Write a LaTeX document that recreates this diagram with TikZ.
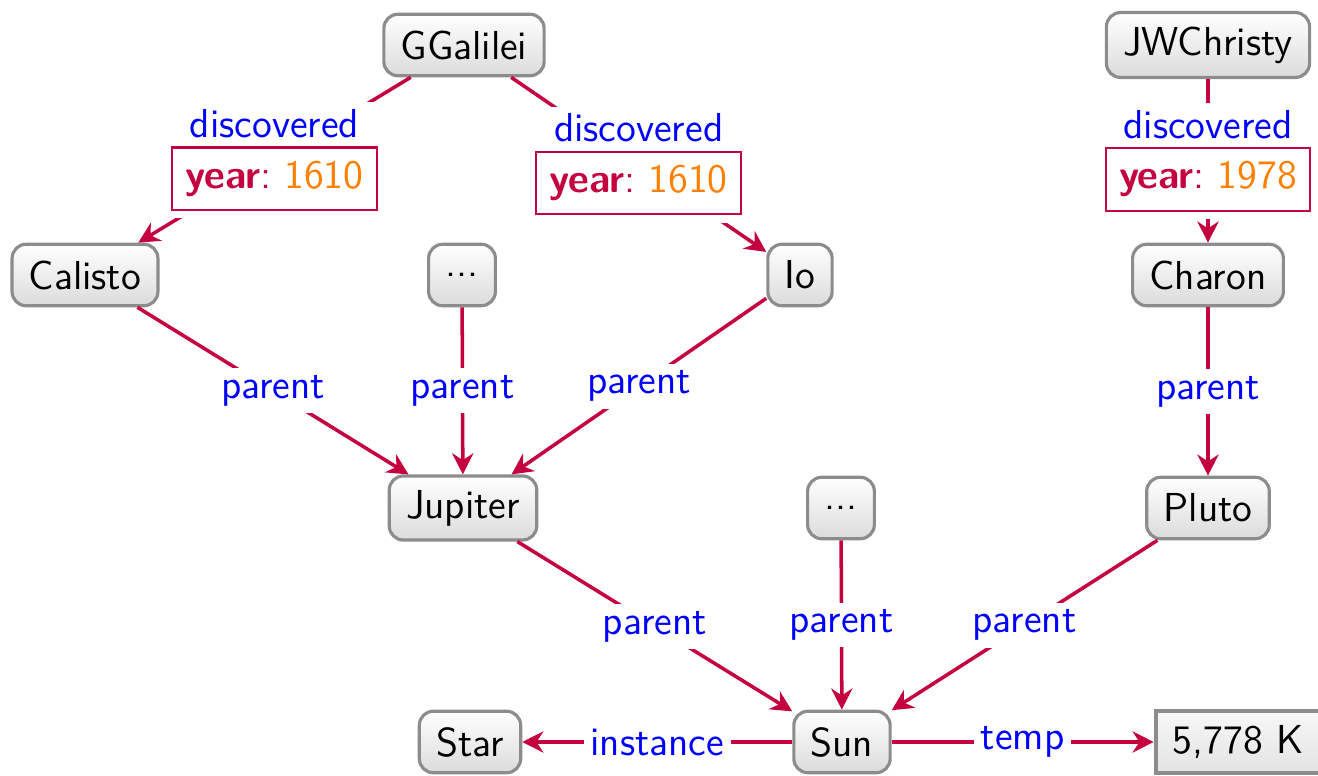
\documentclass[tikz,border=0pt]{standalone}
\usepackage{tikz}
\usetikzlibrary{arrows.meta}
\definecolor{edgered}{HTML}{C4003F}
\definecolor{lblblue}{HTML}{0000FF}
\definecolor{valorange}{HTML}{FF8000}
\definecolor{nodegray}{HTML}{8C8C8C}
\newcommand{\yearbox}[1]{\setlength{\fboxrule}{0.6pt}\setlength{\fboxsep}{3.5pt}%
\fcolorbox{edgered}{white}{\textbf{\color{edgered}year}{\color{edgered}:}\ {\color{valorange}#1}}}

\begin{document}
\begin{tikzpicture}[
  font=\sffamily\fontsize{11.5}{13.5}\selectfont,
  entity/.style={draw=nodegray, line width=0.9pt, rounded corners=4pt, top color=white, bottom color=gray!28, minimum height=17.5pt, inner xsep=4.8pt, inner ysep=4pt},
  literal/.style={draw=nodegray, line width=1.2pt, top color=gray!6, bottom color=gray!22, minimum height=17.5pt, inner xsep=4.8pt, inner ysep=4pt},
  rel/.style={draw=edgered, line width=1pt, -{Stealth[length=6pt,width=6pt]}},
  lbl/.style={fill=white, text=lblblue, inner sep=2pt, align=center}
]
\useasboundingbox (0,0) rectangle (13.18,7.76);

\node[entity] (galilei) at (4.64,7.31) {GGalilei};
\node[entity] (christy) at (12.08,7.31) {JWChristy};
\node[entity] (calisto) at (0.85,5.01) {Calisto};
\node[entity] (moons) at (4.62,5.01) {...};
\node[entity] (io) at (8.00,5.01) {Io};
\node[entity] (charon) at (12.08,5.01) {Charon};
\node[entity] (jupiter) at (4.63,2.68) {Jupiter};
\node[entity] (planets) at (8.41,2.68) {...};
\node[entity] (pluto) at (12.08,2.68) {Pluto};
\node[entity] (star) at (4.70,0.34) {Star};
\node[entity] (sun) at (8.42,0.34) {Sun};
\node[literal] (kelvin) at (12.38,0.34) {5,778 K};

\draw[rel] (galilei) -- node[lbl] {discovered\\[1pt]\yearbox{1610}} (calisto);
\draw[rel] (galilei) -- node[lbl] {discovered\\[1pt]\yearbox{1610}} (io);
\draw[rel] (christy) -- node[lbl] {discovered\\[1pt]\yearbox{1978}} (charon);

\draw[rel] (calisto) -- node[lbl] {parent} (jupiter);
\draw[rel] (moons) -- node[lbl] {parent} (jupiter);
\draw[rel] (io) -- node[lbl] {parent} (jupiter);
\draw[rel] (charon) -- node[lbl] {parent} (pluto);

\draw[rel] (jupiter) -- node[lbl] {parent} (sun);
\draw[rel] (planets) -- node[lbl] {parent} (sun);
\draw[rel] (pluto) -- node[lbl] {parent} (sun);

\draw[rel] (sun) -- node[lbl] {instance} (star);
\draw[rel] (sun) -- node[lbl] {temp} (kelvin);
\end{tikzpicture}
\end{document}
